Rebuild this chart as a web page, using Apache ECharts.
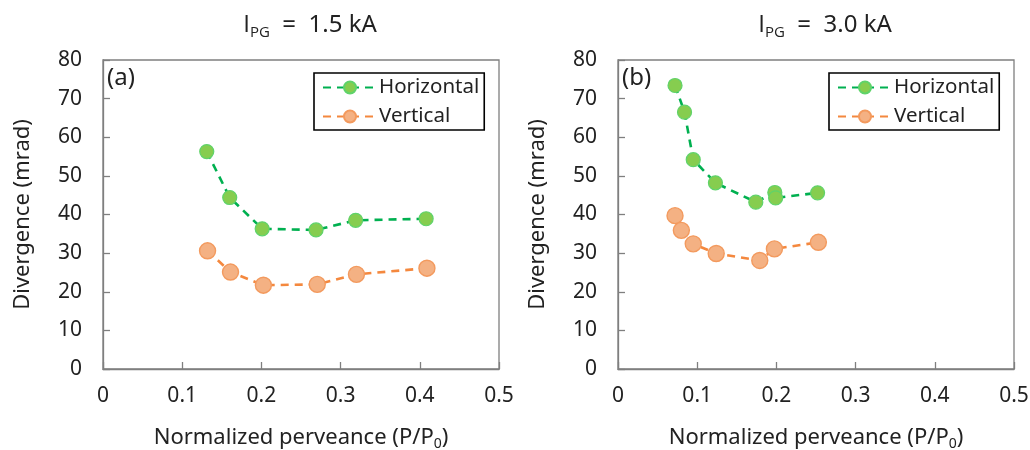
<!DOCTYPE html>
<html><head><meta charset="utf-8">
<script src="https://cdn.jsdelivr.net/npm/echarts@6/dist/echarts.min.js"></script>
<style>html,body{margin:0;padding:0;background:#fff}#c{width:1030px;height:450px}</style>
</head><body><div id="c"></div>
<script>
// Panel (a) I_PG = 1.5 kA
const aHorizX = [0.131, 0.160, 0.201, 0.269, 0.319, 0.408];
const aHorizY = [56.3, 44.4, 36.3, 36.0, 38.5, 38.9];
const aVertX  = [0.132, 0.161, 0.2025, 0.2705, 0.320, 0.409];
const aVertY  = [30.6, 25.1, 21.7, 21.9, 24.5, 26.1];
// Panel (b) I_PG = 3.0 kA
const bHorizX = [0.072, 0.084, 0.095, 0.123, 0.174, 0.198, 0.199, 0.252];
const bHorizY = [73.4, 66.5, 54.2, 48.2, 43.2, 45.7, 44.3, 45.6];
const bVertX  = [0.072, 0.080, 0.095, 0.124, 0.179, 0.1975, 0.253];
const bVertY  = [39.7, 35.9, 32.4, 29.9, 28.1, 31.1, 32.8];
const xTicks = [0, 0.1, 0.2, 0.3, 0.4, 0.5];
const yTicks = [0, 10, 20, 30, 40, 50, 60, 70, 80];
const panelTitles = ['1.5 kA', '3.0 kA'];
const panelTags = ['(a)', '(b)'];

const zip = (xs, ys) => xs.map((x, i) => [x, ys[i]]);
const FONT = '"Noto Sans", "Open Sans", sans-serif';
const TFONT = '"Open Sans", "Noto Sans", sans-serif';
const TXT = '#222';
const AX = '#7f7f7f';
const grids = [{left: 103, top: 60, width: 396, height: 309}, {left: 618, top: 60, width: 396, height: 309}];

function xAxis(i) {
  return {
    type: 'value', gridIndex: i, min: xTicks[0], max: xTicks[xTicks.length - 1], interval: 0.1,
    name: '{a|Normalized perveance (P/P}{b|0}{a|)}', nameLocation: 'middle', nameGap: 56,
    nameTextStyle: {rich: {a: {fontFamily: FONT, fontSize: 22, color: TXT}, b: {fontFamily: FONT, fontSize: 14, color: TXT, padding: [12, 0, 0, 0]}}},
    axisLine: {show: true, lineStyle: {color: AX, width: 1.3}},
    axisTick: {show: true, inside: true, length: 7, lineStyle: {color: AX, width: 1.3}},
    axisLabel: {fontFamily: FONT, fontSize: 21, color: TXT, margin: 17},
    splitLine: {show: false}
  };
}
function yAxis(i) {
  return {
    type: 'value', gridIndex: i, min: yTicks[0], max: yTicks[yTicks.length - 1], interval: 10,
    name: 'Divergence (mrad)', nameLocation: 'middle', nameGap: 69,
    nameTextStyle: {fontFamily: FONT, fontSize: 22, color: TXT},
    axisLine: {show: true, lineStyle: {color: AX, width: 1.3}},
    axisTick: {show: true, inside: true, length: 7, lineStyle: {color: AX, width: 1.3}},
    axisLabel: {fontFamily: FONT, fontSize: 21, color: TXT, margin: 21},
    splitLine: {show: false}
  };
}
const greenLine = {color: '#00b050', width: 2.6, type: [8, 6]};
const orangeLine = {color: '#f4883e', width: 2.6, type: [8, 6]};
const greenItem = {color: '#86cd4f', borderColor: '#5fd36a', borderWidth: 1.2};
const orangeItem = {color: '#f4b183', borderColor: '#f39a5e', borderWidth: 1.4};
function series(i, hx, hy, vx, vy) {
  return [
    {name: 'Horizontal', type: 'line', xAxisIndex: i, yAxisIndex: i, data: zip(hx, hy), symbol: 'circle', symbolSize: 14,
     lineStyle: greenLine, itemStyle: greenItem, z: 3, animation: false},
    {name: 'Vertical', type: 'line', xAxisIndex: i, yAxisIndex: i, data: zip(vx, vy), symbol: 'circle', symbolSize: 16,
     lineStyle: orangeLine, itemStyle: orangeItem, z: 2, animation: false}
  ];
}
function legend(left) {
  return {
    orient: 'vertical', left: left, top: 73, data: ['Horizontal', 'Vertical'],
    itemWidth: 54, itemHeight: 15, itemGap: 8,
    padding: [4, 5, 3, 8], borderColor: '#000', borderWidth: 1.6, backgroundColor: '#fff',
    textStyle: {fontFamily: FONT, fontSize: 20.5, color: TXT, padding: [0, 0, 0, -3]},
    selectedMode: false
  };
}
function title(cx, val) {
  return {
    text: '{i|I}{s|PG}{n|  =  ' + val + '}', left: cx, top: 5, textAlign: 'center',
    textStyle: {fontWeight: 'normal', fontFamily: TFONT, rich: {
      i: {fontFamily: TFONT, fontSize: 24, color: TXT, fontWeight: 'normal'},
      s: {fontFamily: TFONT, fontSize: 15, color: TXT, fontWeight: 'normal', padding: [15, 0, 0, 0]},
      n: {fontFamily: FONT, fontSize: 24, color: TXT, fontWeight: 'normal'}
    }}
  };
}
const option = {
  backgroundColor: '#fff',
  animation: false,
  title: [title(305, panelTitles[0]), title(820, panelTitles[1])],
  legend: [legend(314), legend(829)],
  grid: grids.map(g => Object.assign({show: true, borderColor: AX, borderWidth: 1.3, backgroundColor: 'transparent', containLabel: false, outerBoundsMode: 'none'}, g)),
  xAxis: [xAxis(0), xAxis(1)],
  yAxis: [yAxis(0), yAxis(1)],
  series: [...series(0, aHorizX, aHorizY, aVertX, aVertY), ...series(1, bHorizX, bHorizY, bVertX, bVertY)],
  graphic: [
    {type: 'text', left: 107, top: 66, style: {text: panelTags[0], font: '24px ' + FONT, fill: TXT}},
    {type: 'text', left: 622, top: 66, style: {text: panelTags[1], font: '24px ' + FONT, fill: TXT}}
  ]
};
const chart = echarts.init(document.getElementById('c'), null, {renderer: 'canvas'});
chart.setOption(option);
</script></body></html>
